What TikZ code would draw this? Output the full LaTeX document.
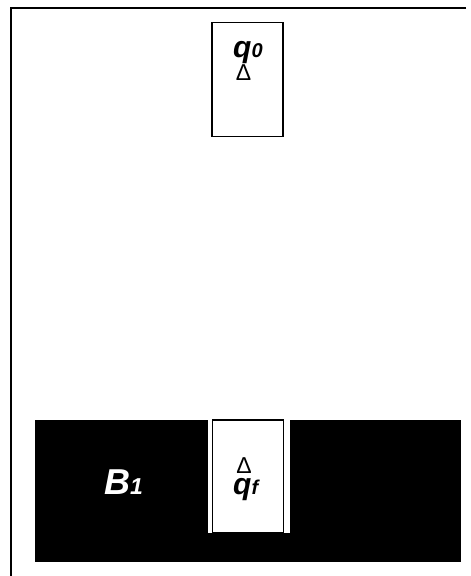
\documentclass[tikz,border=0pt]{standalone}
\usepackage{fontspec}
\setsansfont{Liberation Sans}
\usetikzlibrary{positioning}

\begin{document}
\begin{tikzpicture}[x=1pt,y=-1pt,
  statebox/.style={draw=black,line width=1.3pt,fill=white,minimum width=71pt,minimum height=114pt,inner sep=0pt},
  statelbl/.style={inner sep=0pt,anchor=base west,font=\sffamily\bfseries\itshape},
  marklbl/.style={inner sep=0pt,anchor=base,font=\sffamily\fontsize{23}{23}\selectfont}]
\useasboundingbox (0,0) rectangle (471,576);
\draw[line width=2pt] (466,8) -- (11,8) -- (11,576);
\node[fill=black,minimum width=426pt,minimum height=142pt,inner sep=0pt] (blk) at (248,491) {};
\node[fill=white,minimum width=82pt,minimum height=113pt,inner sep=0pt] (gap) at (249,476.5) {};
\node[statebox] (qzero) at (247.5,79.5) {};
\node[statebox,minimum height=113pt] (qfin) at (248,476.5) {};
\node[statelbl] (qzlbl) at (233,57.5) {\fontsize{30}{30}\selectfont q\fontsize{20}{20}\selectfont 0};
\node[marklbl] (qzmark) at (243.5,80) {Δ};
\node[marklbl] (qfmark) at (244,473) {Δ};
\node[statelbl,text height=16pt] (qflbl) at (233,494) {\fontsize{30}{30}\selectfont q\fontsize{20}{20}\selectfont f};
\node[statelbl,text=white] (blbl) at (104,494) {\fontsize{36}{36}\selectfont B\fontsize{23}{23}\selectfont 1};
\end{tikzpicture}
\end{document}
